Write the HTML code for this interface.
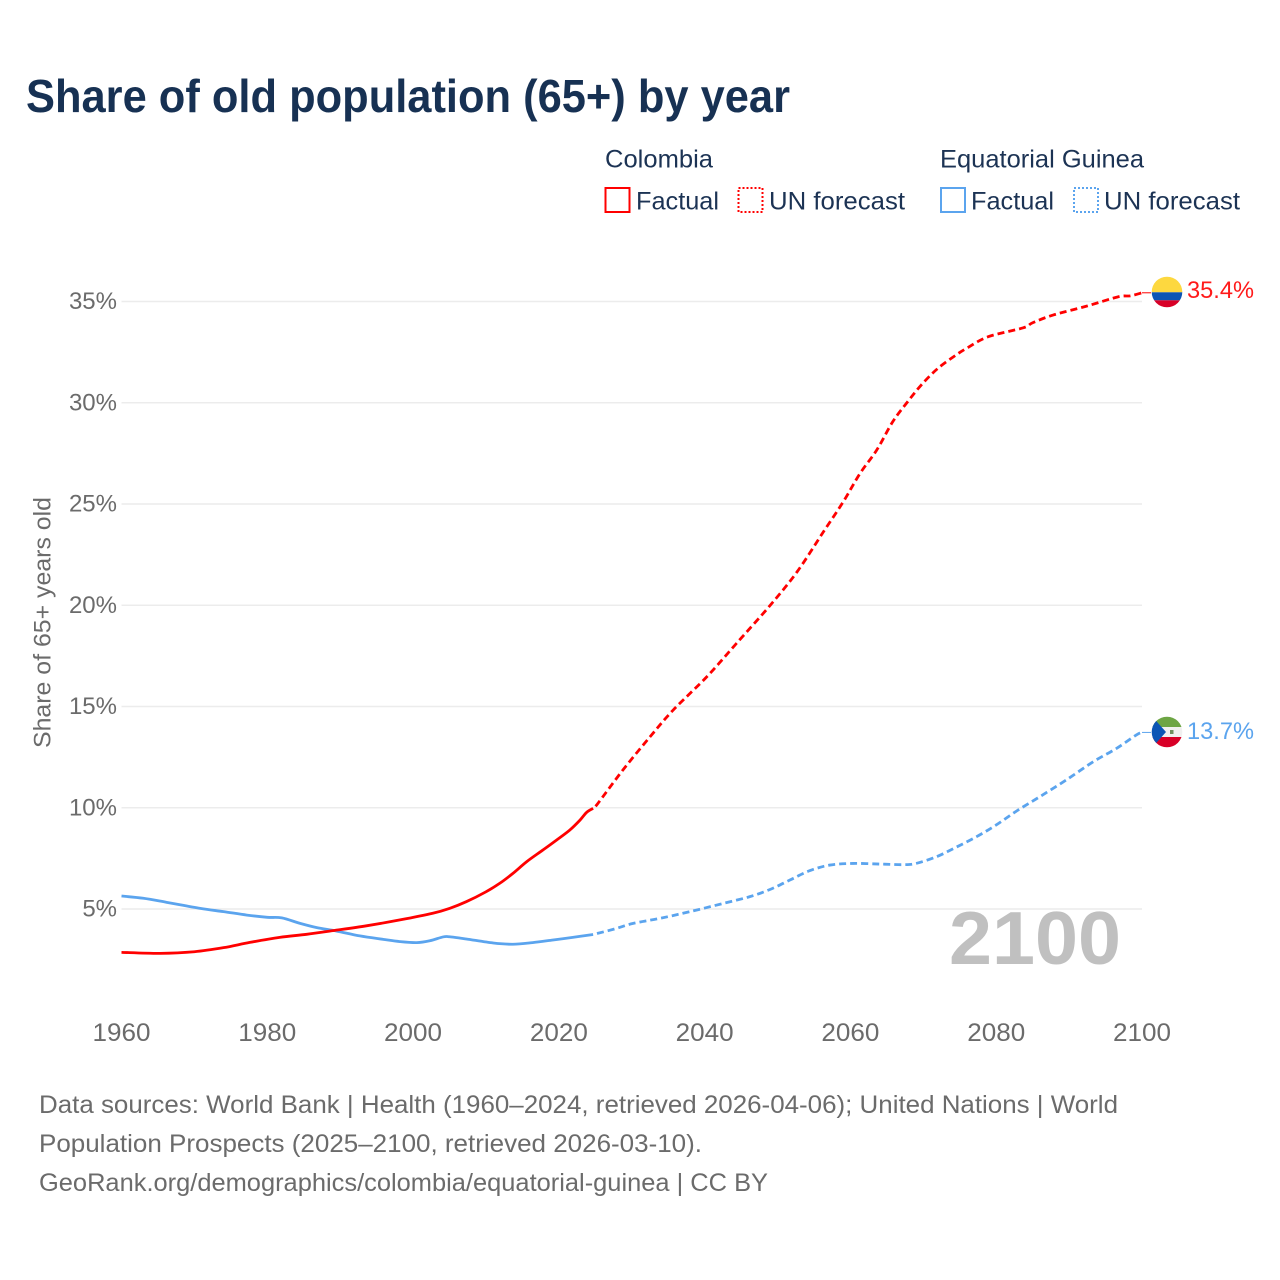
<!DOCTYPE html>
<html lang="en">
<head>
<meta charset="utf-8">
<title>Share of old population (65+) by year</title>
<style>
html,body{margin:0;padding:0;background:#fff;}
svg{display:block;}
text{font-family:"Liberation Sans",sans-serif;}
</style>
</head>
<body>
<svg id="chart" xmlns="http://www.w3.org/2000/svg" width="1280" height="1280" viewBox="0 0 1280 1280">
  <rect width="1280" height="1280" fill="#fff"/>
  <text x="26" y="112" font-size="46" font-weight="700" fill="#173153" textLength="764" lengthAdjust="spacingAndGlyphs">Share of old population (65+) by year</text>

  <g font-size="25" fill="#1c3354">
    <text x="605" y="167.5" textLength="108" lengthAdjust="spacingAndGlyphs">Colombia</text>
    <text x="940" y="167.5" textLength="204" lengthAdjust="spacingAndGlyphs">Equatorial Guinea</text>
    <rect x="605.5" y="188" width="24" height="24" fill="none" stroke="#ff0000" stroke-width="2"/>
    <text x="636" y="209.5" textLength="83" lengthAdjust="spacingAndGlyphs">Factual</text>
    <rect x="738.5" y="188" width="24" height="24" fill="none" stroke="#ff0000" stroke-width="2" stroke-dasharray="2 2"/>
    <text x="769" y="209.5" textLength="136" lengthAdjust="spacingAndGlyphs">UN forecast</text>
    <rect x="941" y="188" width="24" height="24" fill="none" stroke="#5ba4ee" stroke-width="2"/>
    <text x="971" y="209.5" textLength="83" lengthAdjust="spacingAndGlyphs">Factual</text>
    <rect x="1074" y="188" width="24" height="24" fill="none" stroke="#5ba4ee" stroke-width="2" stroke-dasharray="2 2"/>
    <text x="1104" y="209.5" textLength="136" lengthAdjust="spacingAndGlyphs">UN forecast</text>
  </g>

  <g id="grid"></g>
  <g id="ylabels"></g>
  <g id="xlabels"></g>
  <text transform="translate(50.5 622.5) rotate(-90)" text-anchor="middle" font-size="24" fill="#6b6b6b" textLength="251" lengthAdjust="spacingAndGlyphs">Share of 65+ years old</text>

  <text x="949" y="964" font-size="75" font-weight="700" fill="#c0c0c0" textLength="172" lengthAdjust="spacingAndGlyphs">2100</text>

  <g id="lines"></g>

  <g>
    <clipPath id="clipCo"><circle cx="1167" cy="292" r="15.3"/></clipPath>
    <g clip-path="url(#clipCo)">
      <rect x="1150" y="276" width="34" height="16.3" fill="#fdd83f"/>
      <rect x="1150" y="292.3" width="34" height="8" fill="#0b55b5"/>
      <rect x="1150" y="300.3" width="34" height="8" fill="#d80027"/>
    </g>
  </g>
  <g>
    <clipPath id="clipEg"><circle cx="1167" cy="732" r="15.3"/></clipPath>
    <g clip-path="url(#clipEg)">
      <rect x="1150" y="716" width="34" height="11" fill="#6da544"/>
      <rect x="1150" y="727" width="34" height="10" fill="#f0f0f0"/>
      <rect x="1150" y="737" width="34" height="11" fill="#d80027"/>
      <polygon points="1150,714 1166,732 1150,750" fill="#0b55b5"/>
      <rect x="1170" y="730" width="3.5" height="4" fill="#6f8f5f"/>
    </g>
  </g>
  <text id="valCo" x="1187" y="298" font-size="24.5" fill="#ff1a1a" textLength="67" lengthAdjust="spacingAndGlyphs"></text>
  <text id="valEg" x="1187" y="739" font-size="24.5" fill="#5ba4ee" textLength="67" lengthAdjust="spacingAndGlyphs"></text>

  <g font-size="25" fill="#6b6b6b">
    <text x="39" y="1113" textLength="1079" lengthAdjust="spacingAndGlyphs">Data sources: World Bank | Health (1960–2024, retrieved 2026-04-06); United Nations | World</text>
    <text x="39" y="1152" textLength="663" lengthAdjust="spacingAndGlyphs">Population Prospects (2025–2100, retrieved 2026-03-10).</text>
    <text x="39" y="1191" textLength="729" lengthAdjust="spacingAndGlyphs">GeoRank.org/demographics/colombia/equatorial-guinea | CC BY</text>
  </g>
</svg>
<script>
var xTicks = [1960, 1980, 2000, 2020, 2040, 2060, 2080, 2100];
var yTicks = [5, 10, 15, 20, 25, 30, 35];
var yTickLabels = ["5%", "10%", "15%", "20%", "25%", "30%", "35%"];

var colombiaFactualYears = [1960, 1965.3, 1970, 1974, 1977.6, 1981.7, 1985.4, 1989, 1993.6, 1998.2, 2002.7, 2005, 2007.3, 2010, 2011.9, 2013.7, 2015.6, 2017.8, 2019.7, 2021.5, 2022.9, 2023.8, 2024.7];
var colombiaFactual = [2.86, 2.81, 2.89, 3.09, 3.35, 3.6, 3.75, 3.93, 4.17, 4.46, 4.79, 5.03, 5.36, 5.85, 6.27, 6.76, 7.34, 7.91, 8.41, 8.9, 9.39, 9.77, 9.97];

var colombiaForecastYears = [2024.7, 2025.2, 2028.8, 2032.5, 2035.7, 2040.3, 2044.4, 2049, 2052.7, 2056.3, 2059, 2061.3, 2063.6, 2065.8, 2067.7, 2069.7, 2072, 2074.5, 2076, 2078.9, 2083.7, 2085, 2087.8, 2092.4, 2096.7, 2098.4, 2100];
var colombiaForecast = [9.97, 10.14, 11.87, 13.5, 14.83, 16.47, 18.13, 20.0, 21.66, 23.63, 25.1, 26.5, 27.66, 29.06, 29.98, 30.87, 31.7, 32.36, 32.7, 33.26, 33.7, 33.95, 34.33, 34.77, 35.23, 35.28, 35.43];

var guineaFactualYears = [1960, 1963, 1966.2, 1970.8, 1974, 1977.2, 1980, 1982, 1984.5, 1986.8, 1989.5, 1992.7, 1995.9, 1998.2, 2000.5, 2002.3, 2004.1, 2005, 2007.3, 2011, 2013.7, 2016.4, 2019.2, 2021.9, 2024.7];
var guineaFactual = [5.64, 5.53, 5.33, 5.03, 4.87, 4.70, 4.59, 4.56, 4.29, 4.08, 3.91, 3.67, 3.50, 3.39, 3.34, 3.43, 3.62, 3.63, 3.52, 3.32, 3.26, 3.34, 3.47, 3.6, 3.74];

var guineaForecastYears = [2024.7, 2027.5, 2030.2, 2033.9, 2038, 2042.6, 2046.2, 2049, 2051.7, 2054.4, 2057.2, 2060.4, 2064, 2067.2, 2069, 2071.8, 2074.5, 2077.3, 2080, 2082.8, 2086, 2089.6, 2093.3, 2096.5, 2099.2, 2100];
var guineaForecast = [3.74, 4.0, 4.29, 4.54, 4.87, 5.28, 5.61, 5.97, 6.43, 6.89, 7.17, 7.25, 7.22, 7.19, 7.25, 7.58, 8.05, 8.57, 9.15, 9.84, 10.55, 11.37, 12.27, 12.93, 13.59, 13.72];

var colombiaFinalLabel = "35.4%";
var guineaFinalLabel = "13.7%";

var NS = "http://www.w3.org/2000/svg";
function xScale(year) { return 121.5 + (year - 1960) * (1142 - 121.5) / 140; }
function yScale(v) { return 1010.25 - v * 20.25; }

function smoothPath(years, values) {
  var p = years.map(function (y, i) { return [xScale(y), yScale(values[i])]; });
  var d = "M" + p[0][0].toFixed(2) + " " + p[0][1].toFixed(2);
  for (var i = 0; i < p.length - 1; i++) {
    var a = p[Math.max(i - 1, 0)], b = p[i], c = p[i + 1], e = p[Math.min(i + 2, p.length - 1)];
    var c1x = b[0] + (c[0] - a[0]) / 6, c1y = b[1] + (c[1] - a[1]) / 6;
    var c2x = c[0] - (e[0] - b[0]) / 6, c2y = c[1] - (e[1] - b[1]) / 6;
    d += "C" + c1x.toFixed(2) + " " + c1y.toFixed(2) + " " + c2x.toFixed(2) + " " + c2y.toFixed(2) + " " + c[0].toFixed(2) + " " + c[1].toFixed(2);
  }
  return d;
}

var grid = document.getElementById("grid");
var ylabels = document.getElementById("ylabels");
yTicks.forEach(function (t, i) {
  var ln = document.createElementNS(NS, "line");
  
  
  ln.setAttribute("x1", xScale(1960));
  ln.setAttribute("x2", xScale(2100));
  ln.setAttribute("y1", yScale(t));
  ln.setAttribute("y2", yScale(t));
  ln.setAttribute("stroke", "#ececec");
  ln.setAttribute("stroke-width", "1.6");
  grid.appendChild(ln);
  var tx = document.createElementNS(NS, "text");
  
  
  tx.setAttribute("x", 117);
  tx.setAttribute("y", yScale(t) + 7.5);
  tx.setAttribute("text-anchor", "end");
  tx.setAttribute("font-size", "24");
  tx.setAttribute("fill", "#6b6b6b");
  tx.textContent = yTickLabels[i];
  ylabels.appendChild(tx);
});

var xlabels = document.getElementById("xlabels");
xTicks.forEach(function (t) {
  var tx = document.createElementNS(NS, "text");
  
  
  tx.setAttribute("x", xScale(t));
  tx.setAttribute("y", 1041);
  tx.setAttribute("text-anchor", "middle");
  tx.setAttribute("font-size", "25");
  tx.setAttribute("fill", "#6b6b6b");
  tx.setAttribute("textLength", "58");
  tx.setAttribute("lengthAdjust", "spacingAndGlyphs");
  tx.textContent = String(t);
  xlabels.appendChild(tx);
});

var lines = document.getElementById("lines");

var guineaSolid = document.createElementNS(NS, "path");


guineaSolid.setAttribute("d", smoothPath(guineaFactualYears, guineaFactual));
guineaSolid.setAttribute("fill", "none");
guineaSolid.setAttribute("stroke", "#5ba4ee");
guineaSolid.setAttribute("stroke-width", "2.8");
lines.appendChild(guineaSolid);

var guineaDash = document.createElementNS(NS, "path");


guineaDash.setAttribute("d", smoothPath(guineaForecastYears, guineaForecast));
guineaDash.setAttribute("fill", "none");
guineaDash.setAttribute("stroke", "#5ba4ee");
guineaDash.setAttribute("stroke-width", "2.8");
guineaDash.setAttribute("stroke-dasharray", "7 4");
guineaDash.setAttribute("stroke-dashoffset", "7");
lines.appendChild(guineaDash);

var coSolid = document.createElementNS(NS, "path");


coSolid.setAttribute("d", smoothPath(colombiaFactualYears, colombiaFactual));
coSolid.setAttribute("fill", "none");
coSolid.setAttribute("stroke", "#ff0000");
coSolid.setAttribute("stroke-width", "2.8");
lines.appendChild(coSolid);

var coDash = document.createElementNS(NS, "path");


coDash.setAttribute("d", smoothPath(colombiaForecastYears, colombiaForecast));
coDash.setAttribute("fill", "none");
coDash.setAttribute("stroke", "#ff0000");
coDash.setAttribute("stroke-width", "2.8");
coDash.setAttribute("stroke-dasharray", "7 4");
coDash.setAttribute("stroke-dashoffset", "7");
lines.appendChild(coDash);

var coLast = colombiaForecast[colombiaForecast.length - 1];
var coLead = document.createElementNS(NS, "line");


coLead.setAttribute("x1", xScale(2100));
coLead.setAttribute("x2", xScale(2100) + 9);
coLead.setAttribute("y1", yScale(coLast));
coLead.setAttribute("y2", yScale(coLast));
coLead.setAttribute("stroke", "#ff0000");
coLead.setAttribute("stroke-width", "1");
lines.appendChild(coLead);

var egLast = guineaForecast[guineaForecast.length - 1];
var egLead = document.createElementNS(NS, "line");


egLead.setAttribute("x1", xScale(2100));
egLead.setAttribute("x2", xScale(2100) + 9);
egLead.setAttribute("y1", yScale(egLast));
egLead.setAttribute("y2", yScale(egLast));
egLead.setAttribute("stroke", "#5ba4ee");
egLead.setAttribute("stroke-width", "1");
lines.appendChild(egLead);

document.getElementById("valCo").textContent = colombiaFinalLabel;
document.getElementById("valEg").textContent = guineaFinalLabel;
</script>
</body>
</html>
